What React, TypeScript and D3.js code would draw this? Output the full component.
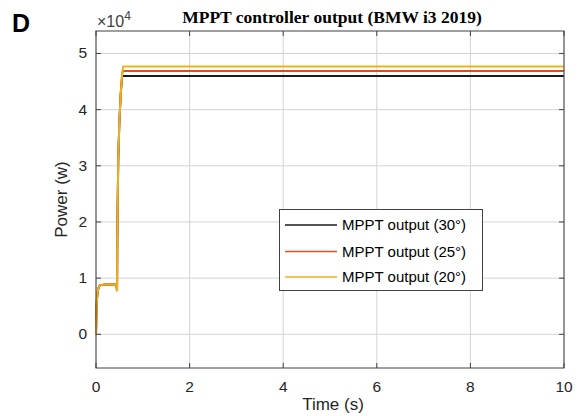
import React from "react";
import * as d3 from "d3";

const xTicks = [0, 2, 4, 6, 8, 10];
const yTicks = [0, 1, 2, 3, 4, 5];
const times = [0, 0.01, 0.02, 0.03, 0.05, 0.08, 0.12, 0.2, 0.43, 0.44, 0.45, 0.455, 0.475, 0.5, 0.53, 0.56, 0.58, 1, 10];
const black30 = [0, 0.42, 0.62, 0.72, 0.82, 0.87, 0.88, 0.885, 0.885, 0.85, 0.77, 1.7, 3.1, 3.8, 4.3, 4.6, 4.6, 4.6, 4.6];
const red25 = [0, 0.42, 0.62, 0.72, 0.82, 0.87, 0.88, 0.885, 0.885, 0.85, 0.77, 1.7, 3.1, 3.8, 4.3, 4.65, 4.69, 4.69, 4.69];
const yellow20 = [0, 0.42, 0.62, 0.72, 0.82, 0.87, 0.88, 0.885, 0.885, 0.85, 0.77, 1.7, 3.1, 3.8, 4.3, 4.65, 4.77, 4.77, 4.77];
const seriesNames = ["MPPT output (30°)", "MPPT output (25°)", "MPPT output (20°)"];
const seriesValues = [black30, red25, yellow20];
const seriesColors = ["#1a1a1a", "#D95319", "#EDB120"];

export default function App() {
  const W = 581, H = 416;
  const L = 96, R = 564, T = 31, B = 368;
  const x = d3.scaleLinear().domain([0, 10]).range([L, R]);
  const y = d3.scaleLinear().domain([-0.6, 5.4]).range([B, T]);
  const line = d3.line<number>().x((_, i) => x(times[i])).y((d) => y(d));
  const axisColor = "#404040";
  const grid = "#d4d4d4";
  const font = "Liberation Sans, Arial, sans-serif";
  return (
    <svg width={W} height={H} style={{ position: "absolute", left: 0, top: 0, background: "#fff" }}>
      <rect x={0} y={0} width={W} height={H} fill="#fff" />
      <rect x={L} y={T} width={R - L} height={B - T} fill="#fff" />
      {xTicks.map((t) => (
        <line key={"gx" + t} x1={x(t)} x2={x(t)} y1={T} y2={B} stroke={grid} strokeWidth={1} />
      ))}
      {yTicks.map((t) => (
        <line key={"gy" + t} x1={L} x2={R} y1={y(t)} y2={y(t)} stroke={grid} strokeWidth={1} />
      ))}
      {seriesValues.map((vals, i) => (
        <path key={"s" + i} d={line(vals) || ""} fill="none" stroke={seriesColors[i]} strokeWidth={2} />
      ))}
      <rect x={L} y={T} width={R - L} height={B - T} fill="none" stroke={axisColor} strokeWidth={1} />
      {xTicks.map((t) => (
        <g key={"tx" + t}>
          <line x1={x(t)} x2={x(t)} y1={B} y2={B - 5} stroke={axisColor} />
          <line x1={x(t)} x2={x(t)} y1={T} y2={T + 5} stroke={axisColor} />
          <text x={x(t)} y={392} textAnchor="middle" fontFamily={font} fontSize={15.5} fill="#262626">{t}</text>
        </g>
      ))}
      {yTicks.map((t) => (
        <g key={"ty" + t}>
          <line x1={L} x2={L + 5} y1={y(t)} y2={y(t)} stroke={axisColor} />
          <line x1={R} x2={R - 5} y1={y(t)} y2={y(t)} stroke={axisColor} />
          <text x={87} y={y(t) + 5} textAnchor="end" fontFamily={font} fontSize={15.5} fill="#262626">{t}</text>
        </g>
      ))}
      <text x={97} y={27} fontFamily={font} fontSize={16} fill="#404040">
        ×10<tspan dy={-7} fontSize={12}>4</tspan>
      </text>
      <text x={332} y={23} textAnchor="middle" fontFamily="Liberation Serif, Times New Roman, serif" fontWeight="bold" fontSize={17.5} fill="#000">
        MPPT controller output (BMW i3 2019)
      </text>
      <text x={12} y={32} fontFamily={font} fontWeight="bold" fontSize={25} fill="#000">D</text>
      <text x={333} y={410} textAnchor="middle" fontFamily={font} fontSize={17} fill="#262626">Time (s)</text>
      <text transform={`translate(67,${(T + B) / 2}) rotate(-90)`} textAnchor="middle" fontFamily={font} fontSize={17} fill="#262626">Power (w)</text>
      <rect x={279.5} y={209.5} width={203} height={81} fill="#fff" stroke="#404040" strokeWidth={1} />
      {seriesNames.map((n, i) => {
        const yy = [225, 251.5, 277][i];
        return (
          <g key={"lg" + i}>
            <line x1={285} x2={337} y1={yy} y2={yy} stroke={seriesColors[i]} strokeWidth={1.5} />
            <text x={342} y={yy + 5} fontFamily={font} fontSize={15} fill="#000">{n}</text>
          </g>
        );
      })}
    </svg>
  );
}
